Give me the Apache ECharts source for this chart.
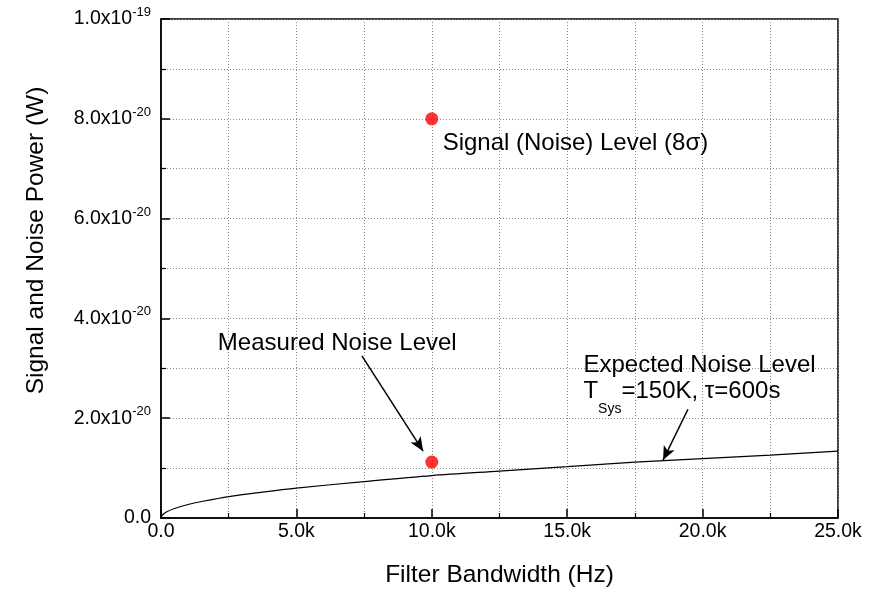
<!DOCTYPE html>
<html><head><meta charset="utf-8">
<script src="https://cdn.jsdelivr.net/npm/echarts@6/dist/echarts.min.js"></script>
<style>html,body{margin:0;padding:0;background:#fff}#c{width:877px;height:589px}</style>
</head><body><div id="c"></div>
<script>
// Values on the y axis are in units of 1e-20 W
const bandwidthHz = [0, 50, 200, 500, 1000, 1500, 2500, 3750, 5000, 7500, 10000, 12500, 15000, 17500, 20000, 22500, 25000];
const expectedNoise = [0, 0.06, 0.12, 0.19, 0.27, 0.33, 0.43, 0.52, 0.60, 0.73, 0.85, 0.94, 1.03, 1.12, 1.19, 1.26, 1.34];
const pointBandwidth = [10000, 10000];
const pointPower = [8.0, 1.12];
const xTicks = {min: 0, max: 25000, interval: 5000};
const yTicks = {min: 0, max: 10, interval: 2};
// annotation arrows [from, to] in data coordinates
const arrowMeasured = [[7420, 3.25], [9680, 1.34]];
const arrowExpected = [[19460, 2.18], [18540, 1.16]];

const FONT = 'Liberation Sans, Arial, sans-serif';
const chart = echarts.init(document.getElementById('c'), null, {renderer: 'canvas'});

function yFmt(v) {
  if (Math.abs(v) < 1e-9) return '{b|0.0}';
  let e = -20, m = v;
  if (m >= 10 - 1e-9) { m = m / 10; e = -19; }
  return '{b|' + m.toFixed(1) + 'x10}{s|' + e + '}';
}

const grid = {left: 161, right: 39, top: 19, bottom: 71, show: true, borderColor: '#000', borderWidth: 1.5,
  backgroundColor: 'transparent', containLabel: false, outerBoundsMode: 'none'};
const dotted = {show: true, lineStyle: {color: '#8a8a8a', type: [1, 2], width: 1}};

chart.setOption({
  animation: false,
  grid: grid,
  xAxis: {
    type: 'value', min: xTicks.min, max: xTicks.max, interval: xTicks.interval,
    name: 'Filter Bandwidth (Hz)', nameLocation: 'middle', nameGap: 45,
    nameTextStyle: {fontFamily: FONT, fontSize: 24.5, color: '#000'},
    axisLine: {show: true, lineStyle: {color: '#000', width: 1.5}},
    axisTick: {show: true, inside: true, length: 9, lineStyle: {color: '#000', width: 1.5}},
    minorTick: {show: true, splitNumber: 2, length: 5, lineStyle: {color: '#000', width: 1.2}},
    splitLine: dotted, minorSplitLine: dotted,
    axisLabel: {fontFamily: FONT, fontSize: 19.5, color: '#000', margin: 4,
      formatter: v => v === 0 ? '0.0' : (v / 1000).toFixed(1) + 'k'}
  },
  yAxis: {
    type: 'value', min: yTicks.min, max: yTicks.max, interval: yTicks.interval,
    name: 'Signal and Noise Power (W)', nameLocation: 'middle', nameGap: 112, nameRotate: 90,
    nameTextStyle: {fontFamily: FONT, fontSize: 24.5, color: '#000', padding: [0, 0, 0, 56]},
    axisLine: {show: true, lineStyle: {color: '#000', width: 1.5}},
    axisTick: {show: true, inside: true, length: 9, lineStyle: {color: '#000', width: 1.5}},
    minorTick: {show: true, splitNumber: 2, length: 5, lineStyle: {color: '#000', width: 1.2}},
    splitLine: dotted, minorSplitLine: dotted,
    axisLabel: {margin: 10, formatter: yFmt,
      rich: {b: {fontFamily: FONT, fontSize: 19.5, color: '#000', verticalAlign: 'middle', lineHeight: 26},
             s: {fontFamily: FONT, fontSize: 13, color: '#000', verticalAlign: 'top', lineHeight: 13}}}
  },
  series: [
    {type: 'line', data: bandwidthHz.map((b, i) => [b, expectedNoise[i]]), smooth: 0.3, showSymbol: false,
     lineStyle: {color: '#000', width: 1.2}, z: 3,
     markLine: {silent: true, symbol: ['none', 'arrow'], symbolSize: [9, 14],
       lineStyle: {color: '#000', width: 1.5, type: 'solid'}, label: {show: false},
       data: [
         [{coord: arrowMeasured[0]}, {coord: arrowMeasured[1]}],
         [{coord: arrowExpected[0]}, {coord: arrowExpected[1]}]
       ]}},
    {type: 'scatter', data: pointBandwidth.map((b, i) => [b, pointPower[i]]), symbolSize: 13,
     itemStyle: {color: '#ff0000'}, z: 5}
  ]
});

// text annotations anchored to data coordinates
const annotations = [
  {at: [10400, 7.5], text: 'Signal (Noise) Level (8σ)'},
  {at: [2100, 3.5], text: 'Measured Noise Level'},
  {at: [15600, 3.05], text: 'Expected Noise Level'}
];
const g = annotations.map(a => {
  const p = chart.convertToPixel({gridIndex: 0}, a.at);
  return {type: 'text', x: p[0], y: p[1], style: {text: a.text, fontFamily: FONT, fontSize: 24, fill: '#000', textVerticalAlign: 'middle'}};
});
const tp = chart.convertToPixel({gridIndex: 0}, [15600, 2.78]);
g.push({type: 'text', x: tp[0], y: tp[1], style: {
  text: '{a|T}{s|Sys}{a|=150K, τ=600s}',
  rich: {a: {fontFamily: FONT, fontSize: 24, fill: '#000', verticalAlign: 'top', lineHeight: 28},
         s: {fontFamily: FONT, fontSize: 14, fill: '#000', verticalAlign: 'top', lineHeight: 14, padding: [23, 0, 0, 0]}},
  textVerticalAlign: 'top'}});
chart.setOption({graphic: g});
</script></body></html>
